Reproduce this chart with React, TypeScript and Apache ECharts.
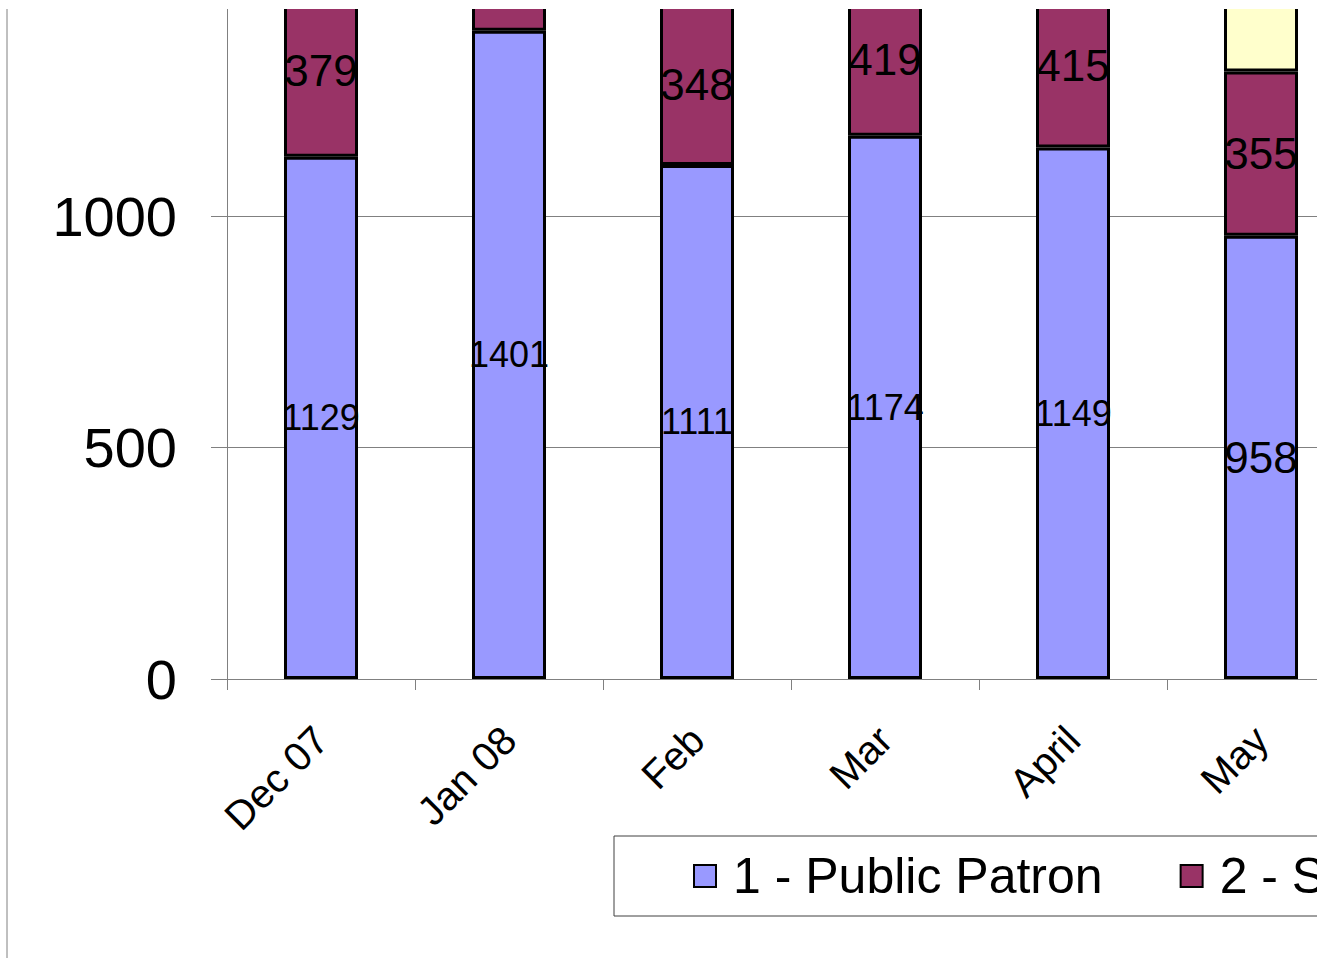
import React, { useEffect, useRef } from "react";
import * as echarts from "echarts";

const categories = ["Dec 07", "Jan 08", "Feb", "Mar", "April", "May"];
const seriesNames = ["1 - Public Patron", "2 - Student", "3 - Staff"];
const publicPatron = [1129, 1401, 1111, 1174, 1149, 958];
const secondGroup = [379, 420, 348, 419, 415, 355];
const thirdGroup: (number | null)[] = [null, null, null, null, null, 450];
// labels that fall outside the visible (cropped) area of the picture
const hiddenSecond = [false, true, false, false, false, false];
const hiddenThird = [true, true, true, true, true, true];
const yTicks = { min: 0, max: 1500, interval: 500 };

const FONT = "'Liberation Sans', Arial, Helvetica, sans-serif";

function labelFor(v: number | null, hidden: boolean) {
  const wide = v !== null && String(v).length >= 4;
  return {
    show: !hidden,
    fontSize: wide ? 36 : 44,
  };
}

export default function App() {
  const ref = useRef<HTMLDivElement>(null);
  useEffect(() => {
    if (!ref.current) return;
    const chart = echarts.init(ref.current, null, { renderer: "svg" });
    const colors = ["#9999FF", "#993366", "#FFFFCC"];
    const groups = [publicPatron, secondGroup, thirdGroup];
    const hidden = [publicPatron.map(() => false), hiddenSecond, hiddenThird];
    chart.setOption({
      animation: false,
      backgroundColor: "#ffffff",
      grid: { left: 227, right: 2200 - 1355, top: 26, bottom: 279, containLabel: false },
      legend: {
        show: true,
        left: 614,
        top: 877,
        orient: "horizontal",
        icon: "rect",
        itemWidth: 22,
        itemHeight: 22,
        itemGap: 77,
        padding: [15, 79, 15, 79],
        borderColor: "#404040",
        borderWidth: 1,
        backgroundColor: "#ffffff",
        textStyle: { fontSize: 50, color: "#000", fontFamily: FONT, padding: [0, 0, 0, 12] },
        data: seriesNames,
      },
      graphic: [
        {
          type: "line",
          shape: { x1: 7, y1: 50, x2: 7, y2: 999 },
          style: { stroke: "#808080", lineWidth: 1 },
        },
      ],
      xAxis: {
        type: "category",
        data: categories,
        boundaryGap: true,
        axisLine: { show: true, lineStyle: { color: "#808080", width: 1 } },
        axisTick: { show: true, length: 11, alignWithLabel: false, lineStyle: { color: "#808080", width: 1 } },
        axisLabel: {
          interval: 0,
          rotate: 45,
          fontSize: 40,
          color: "#000",
          fontFamily: FONT,
          margin: 54,
        },
        splitLine: { show: false },
      },
      yAxis: {
        type: "value",
        min: yTicks.min,
        max: yTicks.max,
        interval: yTicks.interval,
        axisLine: { show: true, lineStyle: { color: "#808080", width: 1 } },
        axisTick: { show: true, length: 16, inside: false, lineStyle: { color: "#808080", width: 1 } },
        axisLabel: {
          fontSize: 56,
          color: "#000",
          fontFamily: FONT,
          margin: 50,
          showMaxLabel: false,
          formatter: (v: number) => String(v),
        },
        splitLine: { show: true, lineStyle: { color: "#808080", width: 1 } },
      },
      series: seriesNames.map((name, i) => ({
        name,
        type: "bar",
        stack: "total",
        barWidth: 74,
        itemStyle: { color: colors[i], borderColor: "#000", borderWidth: 3 },
        label: {
          show: true,
          position: "inside",
          color: "#000",
          fontSize: 44,
          fontFamily: FONT,
        },
        data: groups[i].map((v, j) => ({ value: v, label: labelFor(v, hidden[i][j]) })),
      })),
    });
    return () => chart.dispose();
  }, []);
  return (
    <div
      style={{
        position: "fixed",
        left: 0,
        top: 9,
        width: 1317,
        height: 949,
        overflow: "hidden",
        background: "#fff",
      }}
    >
      <div ref={ref} style={{ position: "absolute", left: 0, top: -50, width: 2200, height: 999 }} />
    </div>
  );
}
